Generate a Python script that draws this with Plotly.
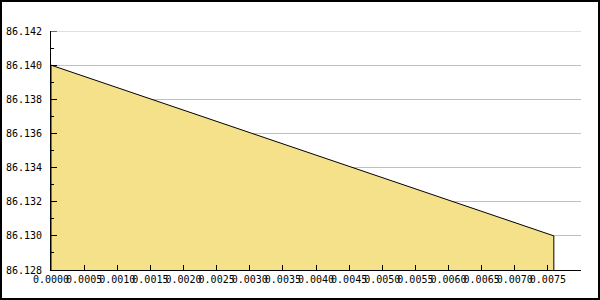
import plotly.graph_objects as go

# Data
x_vals = [0.0, 0.00759]
y_vals = [86.140, 86.130]
y_min, y_max = 86.128, 86.142
x_min, x_max = 0.0, 0.008
y_ticks = [86.128, 86.130, 86.132, 86.134, 86.136, 86.138, 86.140, 86.142]
y_ticklabels = ["86.128", "86.130", "86.132", "86.134", "86.136", "86.138", "86.140", "86.142"]
x_ticks = [0.0000, 0.0005, 0.0010, 0.0015, 0.0020, 0.0025, 0.0030, 0.0035,
           0.0040, 0.0045, 0.0050, 0.0055, 0.0060, 0.0065, 0.0070, 0.0075]
x_ticklabels = ["%.4f" % v for v in x_ticks]

FILL = "#f5e18a"
FONT = dict(family="DejaVu Sans Mono", size=10, color="black")

# polygon: area under the line down to the axis minimum
px = [x_vals[0]] + x_vals + [x_vals[-1]]
py = [y_min] + y_vals + [y_min]

fig = go.Figure()
fig.add_trace(go.Scatter(
    x=px, y=py, mode="lines", fill="toself", fillcolor=FILL,
    line=dict(color="black", width=1), hoverinfo="skip", showlegend=False,
))

L, R, T, B = 51, 19, 31, 30
W, H = 600, 300
pw, ph = W - L - R, H - T - B

fig.update_layout(
    width=W, height=H,
    margin=dict(l=L, r=R, t=T, b=B, pad=0, autoexpand=False),
    paper_bgcolor="white", plot_bgcolor="white",
    font=FONT,
    showlegend=False,
    xaxis=dict(
        range=[x_min, x_max], tickvals=x_ticks, ticktext=x_ticklabels,
        tickangle=0, ticks="inside", ticklen=5, tickcolor="black",
        showgrid=False, zeroline=False, showline=True, linecolor="black",
        linewidth=1, tickfont=FONT, automargin=False,
    ),
    yaxis=dict(
        range=[y_min, y_max], tickvals=y_ticks, ticktext=y_ticklabels,
        ticks="inside", ticklen=6, tickcolor="black",
        showgrid=True, gridcolor="#c0c0c0", gridwidth=1,
        zeroline=False, showline=True, linecolor="black", linewidth=1,
        tickfont=FONT, ticklabelstandoff=6, automargin=False,
        minor=dict(ticks="inside", ticklen=3, tickcolor="black", dtick=0.001,
                   tick0=86.128, showgrid=False),
    ),
    shapes=[
        dict(type="line", xref="paper", yref="y", x0=0, x1=1,
             y0=y_max, y1=y_max, line=dict(color="#c0c0c0", width=1),
             layer="below"),
        dict(type="line", xref="paper", yref="y", x0=0, x1=6 / pw,
             y0=y_max, y1=y_max, line=dict(color="black", width=1),
             layer="above"),
        dict(
            type="rect", xref="paper", yref="paper",
            x0=-(L - 1) / pw, x1=1 + (R - 1) / pw,
            y0=-(B - 1) / ph, y1=1 + (T - 1) / ph,
            line=dict(color="black", width=2), fillcolor="rgba(0,0,0,0)",
            layer="above",
        ),
    ],
)

fig.write_html("out.html")
